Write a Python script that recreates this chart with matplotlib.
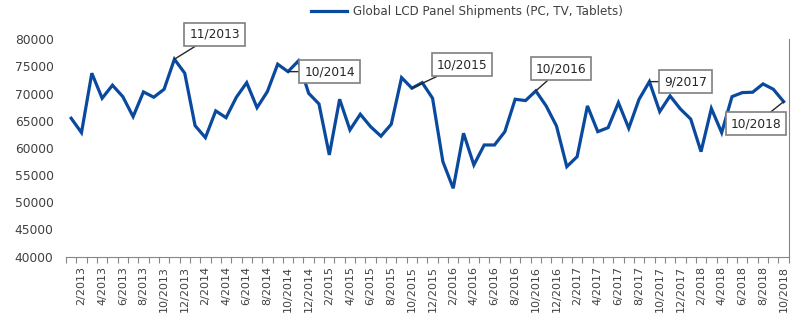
import numpy as np
import matplotlib
matplotlib.use("Agg")
import matplotlib.pyplot as plt

# Monthly global LCD panel shipments, 1/2013 .. 10/2018
ship_2013 = [65450, 62800, 73740, 69130, 71530, 69430, 65750, 70300, 69320, 70790, 76320, 73740]
ship_2014 = [64090, 61880, 66800, 65560, 69320, 72000, 67400, 70350, 75400, 74030, 76000, 70050]
ship_2015 = [68080, 58700, 68950, 63300, 66190, 63900, 62150, 64350, 72930, 70980, 72000, 69130]
ship_2016 = [57460, 52560, 62690, 56850, 60530, 60530, 62980, 68950, 68700, 70480, 67720, 64030]
ship_2017 = [56540, 58380, 67720, 62980, 63720, 68320, 63610, 68950, 72190, 66670, 69560, 67160]
ship_2018 = [65300, 59300, 67250, 62800, 69430, 70170, 70240, 71770, 70790, 68510]

shipments = ship_2013 + ship_2014 + ship_2015 + ship_2016 + ship_2017 + ship_2018
months = [f"{m}/{y}" for y in range(2013, 2019) for m in range(1, 13)][:len(shipments)]

# callouts: month label -> text offset in points
callouts = {
    "11/2013": (29, 18),
    "10/2014": (30, 0),
    "10/2015": (36, 17),
    "10/2016": (18, 16),
    "9/2017": (26, 0),
    "10/2018": (-20, -16),
}

blue = "#0A4A9E"
txt = "#404040"

fig = plt.figure(figsize=(8, 3.24), dpi=100)
ax = fig.add_axes([0.0825, 0.2083, 0.9035, 0.6707])

x = np.arange(len(shipments))
line, = ax.plot(x, shipments, color=blue, lw=2.3, solid_joinstyle="miter",
                label="Global LCD Panel Shipments (PC, TV, Tablets)")

ax.set_xlim(-0.5, len(shipments) - 0.5)
ax.set_ylim(40000, 80000)
ax.set_yticks(np.arange(40000, 80001, 5000))
ax.tick_params(axis="y", length=0, pad=9, labelsize=8.8, labelcolor=txt)

ax.set_xticks(x[1::2])
ax.set_xticklabels(months[1::2], rotation=90)
ax.set_xticks(np.arange(-0.5, len(shipments)), minor=True)
ax.tick_params(axis="x", which="major", length=0, pad=7, labelsize=8, labelcolor=txt)
ax.tick_params(axis="x", which="minor", length=4, color="#868686", width=0.8)

for s in ["top", "left"]:
    ax.spines[s].set_visible(False)
ax.spines["bottom"].set_color("#868686")
ax.spines["right"].set_color("#868686")

for lab, off in callouts.items():
    i = months.index(lab)
    ax.annotate(lab, xy=(i, shipments[i]), xytext=off, textcoords="offset points",
                ha="center", va="center", fontsize=8.8, color="#262626",
                bbox=dict(boxstyle="square,pad=0.4", fc="white", ec="#7f7f7f", lw=1.2),
                arrowprops=dict(arrowstyle="-", color="#262626", lw=1,
                                shrinkA=0, shrinkB=0))

fig.legend(handles=[line], loc="center", bbox_to_anchor=(0.584, 0.963), frameon=False,
           fontsize=8.6, handlelength=3.0, handletextpad=0.5, labelcolor=txt)

fig.savefig("out.png", dpi=100)
